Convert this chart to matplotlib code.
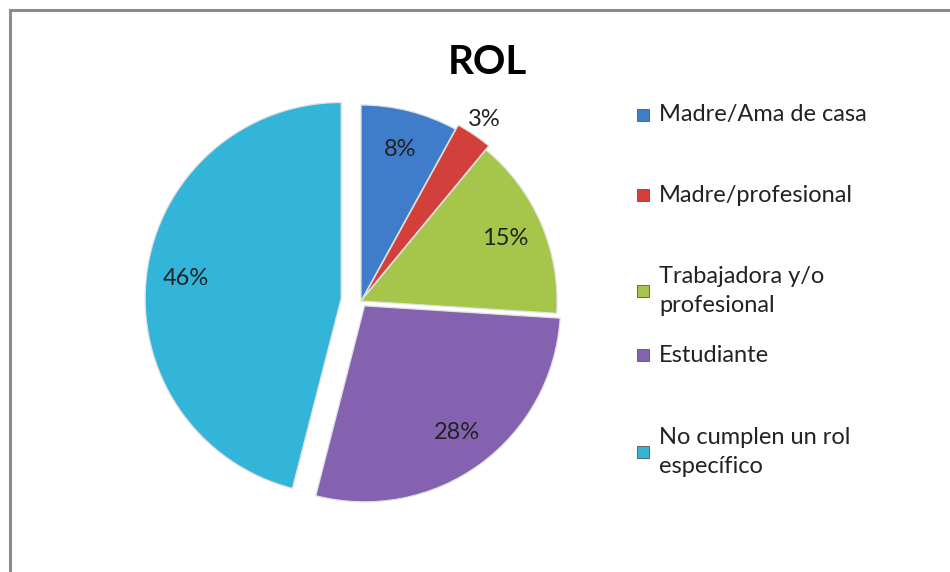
import numpy as np
import matplotlib.pyplot as plt
from matplotlib.patches import Rectangle

# data
labels = ['Madre/Ama de casa', 'Madre/profesional', 'Trabajadora y/o\nprofesional',
          'Estudiante', 'No cumplen un rol\nespecífico']
values = [8, 3, 15, 28, 46]
colors = ['#3F7DCB', '#D33F3A', '#A5C64A', '#8462B0', '#33B5DA']

W, H = 950, 572
R = 196
CX, CY = 361, H - 301
# offsets in pixels (pie explode is in data units here)
explode = [0, 5, 0, 6, 20]

plt.rcParams['font.family'] = ['Lato', 'DejaVu Sans']

fig = plt.figure(figsize=(W / 100, H / 100), dpi=100)
ax = fig.add_axes([0, 0, 1, 1])

wedges, texts, autotexts = ax.pie(
    values, colors=colors, explode=explode, startangle=90, counterclock=False,
    center=(CX, CY), radius=R, autopct='%1.0f%%', pctdistance=0.8,
    wedgeprops=dict(edgecolor='#e0e0e0', linewidth=0.9),
    textprops=dict(fontsize=17, color='#222222'), frame=True)
ax.set_xlim(0, W)
ax.set_ylim(0, H)
ax.set_aspect('auto')
ax.axis('off')

# frame (only top and left edges visible in the crop)
ax.plot([10, W], [H - 10, H - 10], color='#8c8c8c', lw=2.2)
ax.plot([10, 10], [H - 10, 0], color='#8c8c8c', lw=2.2)

# small slice label sits outside the pie
ang = np.deg2rad(90 - 360 * (values[0] + values[1] / 2) / 100)
autotexts[1].set_position((CX + 1.12 * R * np.cos(ang), CY + 1.12 * R * np.sin(ang)))

ax.text(487, H - 62, 'ROL', ha='center', va='center', fontsize=29, fontweight='bold')

# legend
rows_y = [115, 195, 291, 355, 452]
for lab, col, y in zip(labels, colors, rows_y):
    ax.add_patch(Rectangle((637, H - y - 6), 12, 12, facecolor=col, edgecolor='#555555', lw=0.6))
    ax.text(659, H - y, lab, ha='left', va='center', fontsize=17, color='#222222',
            linespacing=1.5)

fig.savefig('out.png', dpi=100)
